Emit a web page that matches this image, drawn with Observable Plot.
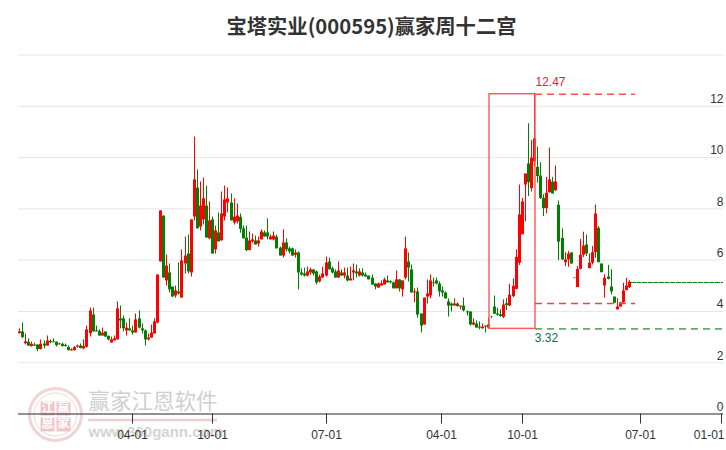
<!DOCTYPE html>
<html><head><meta charset="utf-8">
<script src="https://cdn.jsdelivr.net/npm/d3@7"></script>
<script src="https://cdn.jsdelivr.net/npm/@observablehq/plot@0.6"></script>
<style>
html,body{margin:0;padding:0;background:#fff;}
#title{height:50px;width:726px;padding-left:17px;box-sizing:border-box;text-align:center;font:bold 20.3px/51px "Noto Sans CJK SC","Noto Sans",sans-serif;color:#333;}
svg{display:block;}
</style></head><body>
<div id="title">宝塔实业(000595)赢家周十二宫</div>
<div id="chart"></div>
<script>
const open = [
3.13,3.20,2.74,2.80,2.63,2.69,2.69,2.51,2.73,2.65,
2.83,2.81,2.80,2.70,2.72,2.67,2.60,2.46,2.47,2.61,
2.65,2.54,2.60,3.13,3.86,3.24,3.22,3.04,3.20,3.03,
2.77,2.85,2.89,3.71,3.71,3.24,3.32,3.24,3.16,3.71,
3.32,3.24,2.89,2.96,3.12,3.55,5.93,7.72,5.19,5.50,
4.95,4.60,4.76,4.52,5.85,6.24,5.50,7.68,8.81,7.29,
7.57,8.11,6.83,7.57,6.40,7.06,6.75,7.68,8.23,8.23,
7.45,7.49,7.67,7.22,6.86,6.37,6.71,6.75,6.63,6.79,
7.06,7.06,6.79,6.79,6.90,6.47,6.16,6.67,6.44,6.44,
6.19,6.28,5.50,5.46,5.38,5.50,5.62,5.54,5.15,5.30,
5.38,5.93,5.66,5.54,5.30,5.50,5.38,5.38,5.19,5.50,
5.54,5.38,5.50,5.42,5.38,5.30,5.07,4.91,4.99,5.03,
5.19,5.16,5.11,4.88,5.23,4.84,5.30,5.93,5.62,4.72,
4.76,3.90,3.47,4.56,4.60,5.11,5.19,5.07,4.80,4.72,
4.37,4.29,4.21,4.29,4.17,4.21,3.98,3.98,3.47,3.51,
3.39,3.32,3.43,3.35,3.78,4.17,3.90,3.87,3.77,4.30,
4.21,4.58,4.86,5.88,6.99,8.93,9.75,8.79,9.84,9.62,
9.28,8.41,8.01,8.63,9.04,8.71,8.14,6.85,5.90,6.01,
6.28,5.30,4.93,5.64,6.19,6.59,5.67,5.88,6.29,7.24,
5.85,4.99,5.34,4.95,4.56,4.06,4.17,4.33,4.81,4.93];
const close = [
3.20,2.98,2.81,2.65,2.72,2.65,2.51,2.72,2.65,2.85,
2.78,2.78,2.67,2.73,2.63,2.63,2.47,2.50,2.59,2.65,
2.55,2.63,3.28,4.02,3.20,3.20,3.04,3.15,3.00,2.89,
2.89,2.93,4.10,3.63,3.32,3.35,3.24,3.16,3.67,3.35,
3.24,2.89,2.96,3.16,3.59,5.42,7.92,5.30,5.77,4.84,
4.56,4.80,4.68,5.97,6.16,5.54,7.57,9.13,7.22,8.11,
8.39,6.86,7.53,6.24,7.14,6.71,7.80,8.35,8.39,7.53,
7.68,7.72,7.20,6.83,6.37,6.75,6.79,6.59,6.75,7.10,
6.90,6.90,6.90,6.94,6.44,6.16,6.67,6.40,6.32,6.16,
6.28,5.50,5.42,5.38,5.54,5.62,5.46,5.11,5.34,5.46,
5.89,5.62,5.50,5.30,5.58,5.38,5.50,5.19,5.27,5.58,
5.46,5.54,5.38,5.34,5.23,5.03,4.95,5.07,5.07,5.23,
5.11,5.12,4.88,5.23,4.88,5.19,6.44,5.69,4.72,4.76,
3.86,3.43,4.52,4.68,5.19,5.08,5.07,4.76,4.72,4.49,
4.21,4.21,4.29,4.19,4.21,4.02,3.94,3.47,3.55,3.35,
3.35,3.39,3.39,3.47,3.76,3.89,3.85,3.80,4.25,4.23,
4.63,4.98,6.11,7.76,8.27,9.36,9.02,9.98,10.73,9.26,
8.40,8.01,8.61,9.13,8.58,9.05,6.70,6.01,6.01,6.24,
5.85,5.28,5.64,6.19,6.55,6.24,5.88,6.29,7.80,5.90,
5.51,5.29,5.25,4.76,4.32,4.17,4.33,4.80,4.99,5.14];
const high = [
3.32,3.55,3.12,2.93,2.81,2.76,2.69,2.89,2.85,3.04,
2.89,2.93,2.81,2.76,2.76,2.73,2.65,2.54,2.63,2.69,
2.73,2.89,3.43,4.13,4.13,3.43,3.28,3.35,3.20,3.04,
3.00,3.04,4.37,4.21,3.82,3.55,3.71,3.43,3.90,4.02,
3.51,3.28,3.12,3.47,3.71,5.42,7.92,7.72,6.20,5.85,
4.95,4.99,5.89,6.40,6.90,6.98,7.57,10.80,9.52,9.05,
9.20,8.89,8.27,7.68,7.33,7.84,8.66,8.89,8.81,8.58,
8.39,8.19,7.80,7.33,7.33,7.10,7.02,6.94,6.90,7.18,
7.14,7.61,6.98,7.10,6.98,6.51,7.18,6.83,6.51,6.47,
6.40,6.32,5.66,5.69,5.73,5.69,5.62,5.58,5.42,5.73,
6.12,6.08,5.73,5.62,5.93,5.62,5.69,5.69,5.73,5.85,
5.81,5.66,5.66,5.50,5.38,5.42,5.07,5.11,5.19,5.30,
5.38,5.19,5.15,5.58,5.23,5.19,6.90,6.28,5.81,4.88,
4.91,3.90,4.52,5.23,5.42,5.30,5.30,5.15,4.95,4.76,
4.49,4.33,4.49,4.33,4.21,4.52,4.02,3.98,3.71,3.63,
3.59,3.51,3.43,3.74,3.80,4.60,4.12,4.06,4.45,4.50,
5.06,5.27,6.40,8.93,8.41,9.36,11.32,10.66,12.47,10.40,
9.80,8.55,9.23,10.37,9.23,9.67,8.31,7.22,6.29,6.34,
6.29,5.30,5.75,6.80,7.09,6.98,6.24,6.53,8.15,7.31,
5.85,5.43,5.80,5.62,4.56,4.50,4.36,5.10,5.29,5.20];
const low = [
3.13,2.93,2.69,2.63,2.61,2.63,2.43,2.50,2.54,2.65,
2.74,2.78,2.61,2.69,2.61,2.61,2.46,2.46,2.46,2.57,
2.54,2.50,2.57,3.00,3.20,3.20,3.04,3.04,3.00,2.85,
2.77,2.85,2.89,3.32,3.20,3.04,3.24,3.08,3.16,3.32,
3.12,2.65,2.85,2.96,3.12,3.51,5.93,5.30,4.99,4.72,
4.56,4.52,4.64,4.52,5.46,5.46,5.34,7.53,7.22,7.14,
7.37,6.86,6.79,6.24,6.24,6.71,6.75,7.53,7.84,7.53,
7.37,7.41,7.05,6.83,6.33,6.37,6.66,6.59,6.51,6.79,
6.90,6.79,6.79,6.75,6.44,6.16,6.08,6.32,6.24,6.16,
6.08,4.84,5.38,5.34,5.34,5.42,5.38,5.03,5.11,5.30,
5.34,5.62,5.46,5.30,5.30,5.38,5.27,5.15,5.19,5.19,
5.30,5.34,5.34,5.34,5.23,5.03,4.84,4.91,4.99,5.03,
5.11,5.07,4.88,4.88,4.76,4.56,5.23,5.15,4.72,4.33,
3.74,3.16,3.47,4.29,4.49,4.95,5.03,4.56,4.56,4.49,
3.78,3.98,4.21,4.17,4.06,3.98,3.82,3.43,3.43,3.35,
3.28,3.32,3.16,3.35,3.73,3.89,3.82,3.77,3.72,4.03,
4.19,4.54,4.84,5.79,6.99,7.50,8.48,8.66,9.65,9.00,
8.37,7.70,7.80,8.61,8.58,8.67,5.98,5.98,5.75,5.72,
5.85,5.28,4.93,5.62,6.10,6.14,5.66,5.81,6.07,5.90,
5.51,4.52,5.23,4.64,4.32,4.06,4.17,4.32,4.81,4.89];

const gridValues = [0,2,4,6,8,10,12,14];
const yTickValues = [0,2,4,6,8,10,12];
const tickAt = [36.87,62.97,100.16,137.68,164.11,202.6,229.04];
const tickLabels = ["04-01","10-01","07-01","04-01","10-01","07-01","01-01"];
const peak = 12.47, trough = 3.32, middle = 4.31, lastClose = 5.13;
const boxStart = 153.3, boxEnd = 168.25, dashEnd = 200.9, closeStart = 199.8, rightEnd = 229.6, leftEnd = -0.42;
const sealChars = [["赢",63,408],["江",47,408],["恩",47,424],["家",63,424]];

const idx = d3.range(open.length);
const F = "'Liberation Sans',Arial,sans-serif";
const CJK = "'Noto Sans CJK SC',sans-serif";
const OFF = 50; // height of the title block above the svg
const up = i => close[i] >= open[i];
const RED = "#ff0000", GREEN = "#008000", PINK = "#eecaca";
const candle = (filter, color) => [
  Plot.ruleX(idx, {filter, x: i => i, y1: i => low[i], y2: i => high[i], stroke: color, strokeWidth: 1}),
  Plot.ruleX(idx, {filter, x: i => i, y1: i => open[i], y2: i => close[i], stroke: color, strokeWidth: 3})
];

const plot = Plot.plot({
  width: 726, height: 400, margin: 0,
  style: {background: "transparent", fontFamily: F, overflow: "visible"},
  x: {axis: null, domain: [0, 199], range: [19, 629], round: true},
  y: {axis: null, domain: [0, 14], range: [363.5, 4.5]},
  marks: [
    Plot.ruleY(gridValues, {x1: leftEnd, x2: rightEnd, stroke: "#e6e6e6", strokeWidth: 1}),
    // watermark
    Plot.dot([0], {frameAnchor: "top-left", dx: 55, dy: 414 - OFF, r: 26, fill: "none", stroke: PINK, strokeWidth: 3, strokeOpacity: 0.8}),
    Plot.dot([0], {frameAnchor: "top-left", dx: 55, dy: 414 - OFF, r: 21.5, fill: "none", stroke: PINK, strokeWidth: 1, strokeOpacity: 0.8}),
    ...sealChars.map(([c, px, py]) => Plot.dot([c], {frameAnchor: "top-left", dx: px, dy: py - OFF, symbol: "square", r: 7.9, fill: "#edc6c6", stroke: "none"})),
    ...sealChars.map(([c, px, py]) => Plot.text([c], {frameAnchor: "top-left", dx: px, dy: py - OFF, text: d => d, fontFamily: CJK, fontSize: 12, fontWeight: "bold", fill: "#fff", textAnchor: "middle", lineAnchor: "middle"})),
    Plot.text(["赢家江恩软件"], {frameAnchor: "top-left", dx: 88, dy: 402 - OFF, text: d => d, fontFamily: CJK, fontSize: 21.5, fill: "#cfcfcf", textAnchor: "start", lineAnchor: "middle"}),
    Plot.ruleY([0], {x1: 22.5, x2: 64.6, dy: 6, stroke: "#ecd0d0", strokeWidth: 2.5}),
    Plot.text(["www.360gann.com"], {frameAnchor: "top-left", dx: 88, dy: 431.5 - OFF, text: d => d, fontSize: 15, fontWeight: "bold", fill: "#d4d4d4", textAnchor: "start", lineAnchor: "middle"}),
    // axis
    Plot.ruleY([0], {x1: leftEnd, x2: rightEnd, stroke: "#333", strokeWidth: 1.2}),
    Plot.ruleX(tickAt, {y1: 0, y2: -0.39, stroke: "#333", strokeWidth: 1}),
    Plot.text(tickAt.slice(0, -1), {x: d => d, y: 0, dy: 21, text: (d, i) => tickLabels[i], fontSize: 12, fill: "#333", textAnchor: "middle"}),
    Plot.text(tickAt.slice(-1), {x: d => d, y: 0, dy: 21, dx: 3, text: () => tickLabels[tickLabels.length - 1], fontSize: 12, fill: "#333", textAnchor: "end"}),
    Plot.text(yTickValues, {frameAnchor: "right", y: d => d, dx: -3, dy: -7, text: d => String(d), fontSize: 12, fill: "#333", textAnchor: "end"}),
    // candles
    ...candle(i => !up(i), GREEN),
    ...candle(up, RED),
    // twelve-palaces box and levels
    Plot.rect([0], {x1: boxStart, x2: boxEnd, y1: trough, y2: peak, fill: "none", stroke: "#ff5555", strokeWidth: 1.4}),
    Plot.ruleY([peak], {x1: boxEnd, x2: dashEnd, stroke: "#ff5050", strokeWidth: 1.5, strokeDasharray: "7 5"}),
    Plot.ruleY([middle], {x1: boxEnd, x2: dashEnd, stroke: "#ee4444", strokeWidth: 1.4, strokeDasharray: "7 5"}),
    Plot.ruleY([trough], {x1: boxEnd, x2: rightEnd + 1, stroke: "#60b060", strokeWidth: 1.6, strokeDasharray: "7 5"}),
    Plot.ruleY([lastClose], {x1: closeStart, x2: rightEnd, stroke: GREEN, strokeWidth: 1, strokeDasharray: "5 0.6"}),
    Plot.text([peak], {x: boxEnd + 4.9, y: peak, dy: -12, text: d => d.toFixed(2), fontSize: 12, fill: "#e8202a", textAnchor: "middle"}),
    Plot.text([trough], {x: boxEnd + 3.8, y: trough, dy: 9.5, text: d => d.toFixed(2), fontSize: 12, fill: "#0b6e55", textAnchor: "middle"})
  ]
});
document.getElementById("chart").appendChild(plot);
</script>
</body></html>
